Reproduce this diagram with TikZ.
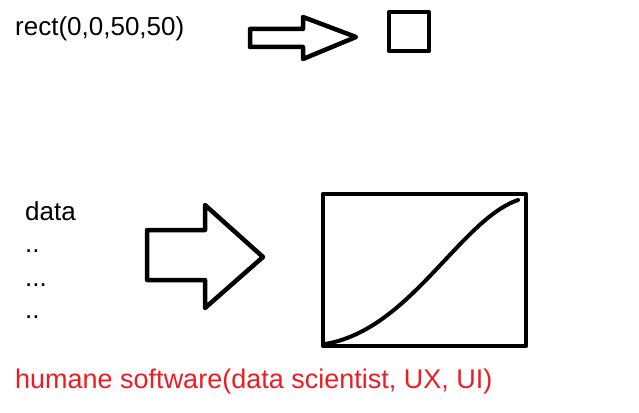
\documentclass[tikz,border=0pt]{standalone}
\usepackage{fontspec}
\setmainfont{Liberation Sans}
\definecolor{paintred}{RGB}{237,28,36}

\begin{document}
\begin{tikzpicture}[x=1pt,y=-1pt,
    txt/.style={anchor=base west,inner sep=0pt,font=\fontsize{26}{30}\selectfont},
    thickline/.style={line width=4.5pt,line join=round}]
    \useasboundingbox (0,0) rectangle (639,412);
    % top row: drawing command -> square
    \node[txt] (code) at (15,36) {rect(0,0,50,50)};
    \draw[thickline] (250,29) -- (303,29) -- (303,17) -- (356,37) -- (303,59) -- (303,47) -- (250,47) -- cycle;
    \draw[thickline] (389,12) rectangle (429,51);
    % bottom row: data -> chart
    \node[txt] (data) at (25,220) {data};
    \node[txt] (dotsA) at (25,252) {..};
    \node[txt] (dotsB) at (25,286) {...};
    \node[txt] (dotsC) at (25,318) {..};
    \draw[thickline] (147,230) -- (205,230) -- (205,205) -- (263,257) -- (205,308) -- (205,280) -- (147,280) -- cycle;
    \draw[thickline] (323,194) rectangle (526,346);
    \draw[line width=4pt,line cap=round] (325,344) .. controls (410,330) and (460,220) .. (518,200);
    % caption
    \node[txt,text=paintred,font=\fontsize{27}{30}\selectfont] (caption) at (15,388) {humane software(data scientist, UX, UI)};
\end{tikzpicture}
\end{document}
